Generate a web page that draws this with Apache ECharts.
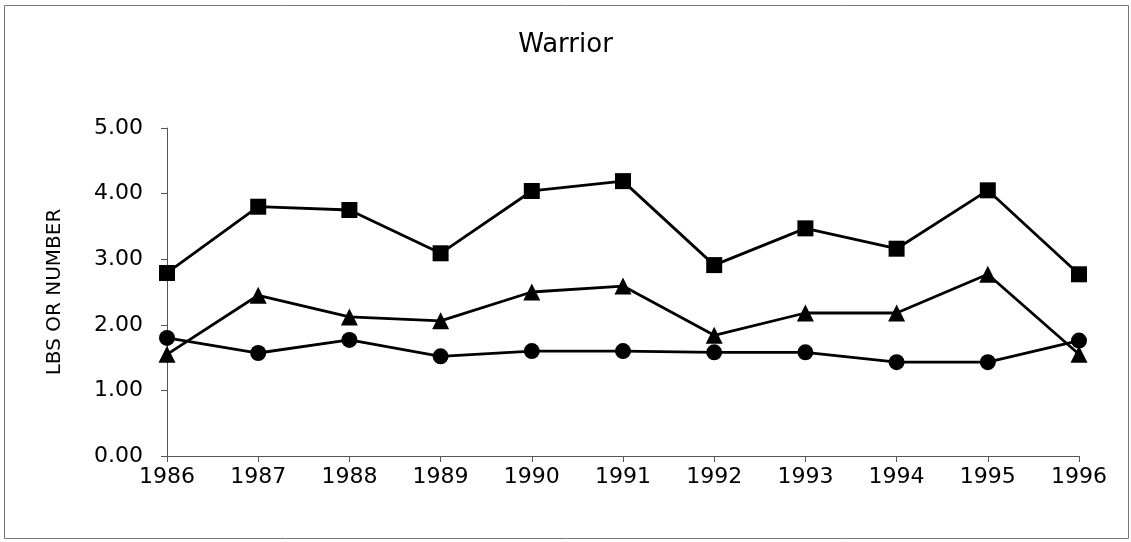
<!DOCTYPE html>
<html>
<head>
<meta charset="utf-8">
<script src="https://cdn.jsdelivr.net/npm/echarts@6/dist/echarts.min.js"></script>
<style>
  html, body { margin: 0; padding: 0; background: #fff; }
  #chart { width: 1131px; height: 542px; }
</style>
</head>
<body>
<div id="chart"></div>
<script>
const years = ['1986', '1987', '1988', '1989', '1990', '1991', '1992', '1993', '1994', '1995', '1996'];
const squareSeries = [2.79, 3.80, 3.75, 3.09, 4.04, 4.19, 2.91, 3.47, 3.16, 4.05, 2.77];
const triangleSeries = [1.55, 2.45, 2.12, 2.06, 2.50, 2.59, 1.84, 2.18, 2.18, 2.77, 1.55];
const circleSeries = [1.80, 1.57, 1.77, 1.52, 1.60, 1.60, 1.58, 1.58, 1.43, 1.43, 1.76];

const chart = echarts.init(document.getElementById('chart'));

const font = 'DejaVu Sans, sans-serif';

function lineSeries(name, data, symbol, size) {
  return {
    name: name,
    type: 'line',
    data: data,
    symbol: symbol,
    symbolSize: size,
    itemStyle: { color: '#000' },
    lineStyle: { color: '#000', width: 2.8 },
    emphasis: { disabled: true }
  };
}

chart.setOption({
  animation: false,
  title: {
    text: 'Warrior',
    left: 'center',
    top: 27,
    textStyle: { fontFamily: font, fontSize: 26, fontWeight: 'normal', color: '#000' }
  },
  // outer frame of the chart area
  graphic: [{
    type: 'rect',
    shape: { x: 4.5, y: 5.5, width: 1124, height: 533 },
    style: { fill: 'none', stroke: '#777', lineWidth: 1 },
    silent: true
  }],
  grid: { left: 167, right: 52, top: 128, bottom: 86 },
  xAxis: {
    type: 'category',
    data: years,
    boundaryGap: false,
    axisLine: { lineStyle: { color: '#555', width: 1 } },
    axisTick: { show: true, length: 6, lineStyle: { color: '#555' } },
    axisLabel: { fontFamily: font, fontSize: 22, color: '#000', margin: 10 },
    splitLine: { show: false }
  },
  yAxis: {
    type: 'value',
    min: 0,
    max: 5,
    interval: 1,
    name: 'LBS OR NUMBER',
    nameLocation: 'middle',
    nameGap: 102,
    nameTextStyle: { fontFamily: font, fontSize: 20, color: '#000' },
    axisLine: { show: true, lineStyle: { color: '#555', width: 1 } },
    axisTick: { show: true, length: 6, lineStyle: { color: '#555' } },
    axisLabel: {
      fontFamily: font, fontSize: 22, color: '#000', margin: 24,
      formatter: v => v.toFixed(2)
    },
    splitLine: { show: false }
  },
  series: [
    lineSeries('Square', squareSeries, 'rect', 16),
    lineSeries('Triangle', triangleSeries, 'triangle', 17),
    lineSeries('Circle', circleSeries, 'circle', 16)
  ]
});
</script>
</body>
</html>
